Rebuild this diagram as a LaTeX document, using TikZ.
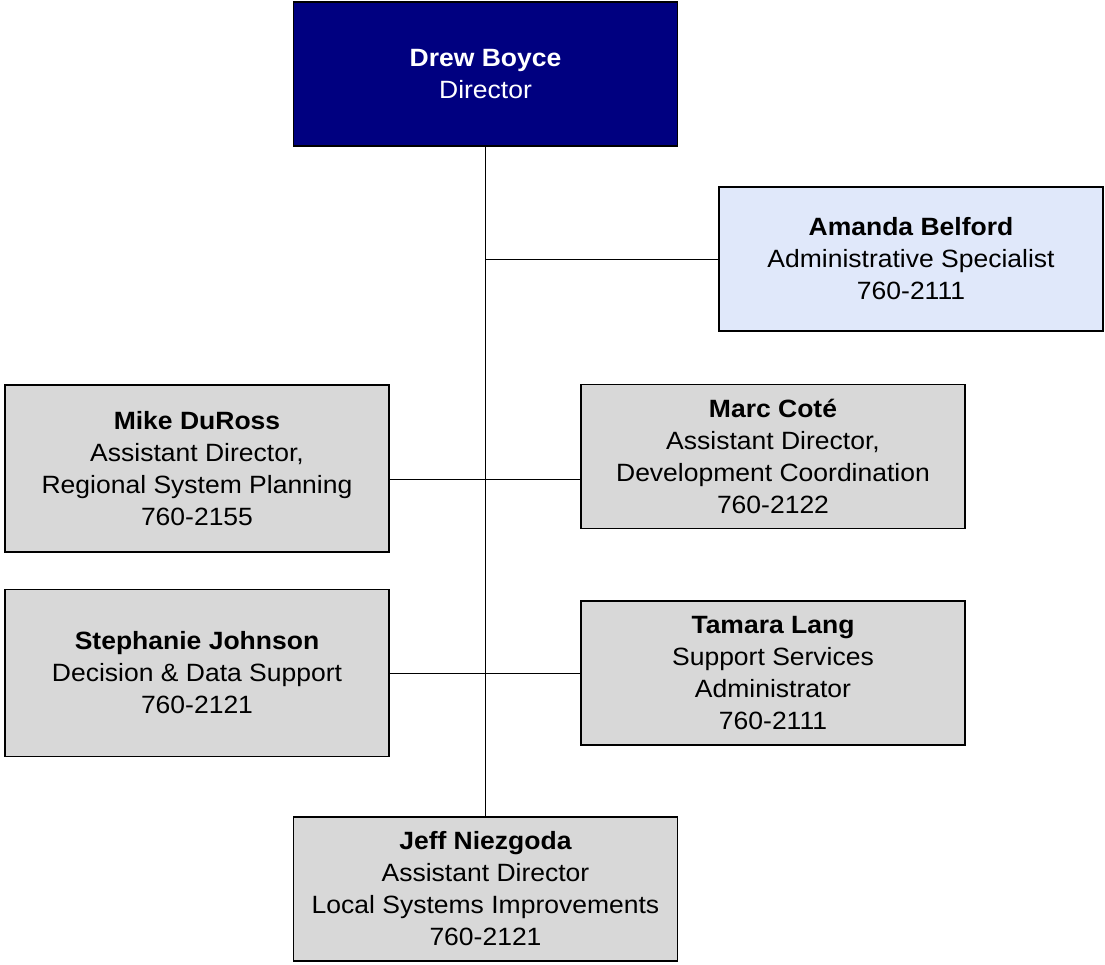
\documentclass[tikz,border=0pt]{standalone}
\usepackage{fontspec}
\setmainfont[FakeStretch=1.06]{Liberation Sans}
\usepackage{tikz}

\definecolor{headblue}{HTML}{000080}
\definecolor{staffblue}{HTML}{E0E8FA}
\definecolor{staffgrey}{HTML}{D8D8D8}

\begin{document}
\begin{tikzpicture}[
        x=1pt, y=-1pt,
        person/.style={rectangle,draw,line width=1.6pt,fill=staffgrey,
            minimum width=384pt,minimum height=144pt,align=center,
            inner sep=0pt,font=\fontsize{25}{32}\selectfont},
        tall/.style={minimum height=167pt},
        link/.style={line width=0.9pt}
    ]
    \useasboundingbox (0,0) rectangle (1105,964);

    \node[person,fill=headblue,text=white] (director) at (485.5,74) {\textbf{Drew Boyce}\\Director};

    \node[person,fill=staffblue] (admin) at (911,259) {\textbf{Amanda Belford}\\Administrative Specialist\\760-2111};

    \node[person,tall] (duross) at (197,468.5) {\textbf{Mike DuRoss}\\Assistant Director,\\Regional System Planning\\760-2155};
    \node[person] (cote) at (773,456.5) {\textbf{Marc Coté}\\Assistant Director,\\Development Coordination\\760-2122};

    \node[person,tall] (johnson) at (197,673) {\textbf{Stephanie Johnson}\\Decision \& Data Support\\760-2121};
    \node[person] (lang) at (773,673) {\textbf{Tamara Lang}\\Support Services\\Administrator\\760-2111};

    \node[person] (niezgoda) at (485.5,889) {\textbf{Jeff Niezgoda}\\Assistant Director\\Local Systems Improvements\\760-2121};

    \coordinate (deputies) at (485.5,479);

    \draw[link] (director.south) -- (niezgoda.north);
    \draw[link] (admin.west) -- (admin.west -| director.south);
    \draw[link] (duross.east |- deputies) -- (cote.west |- deputies);
    \draw[link] (johnson.east) -- (lang.west);

\end{tikzpicture}
\end{document}
